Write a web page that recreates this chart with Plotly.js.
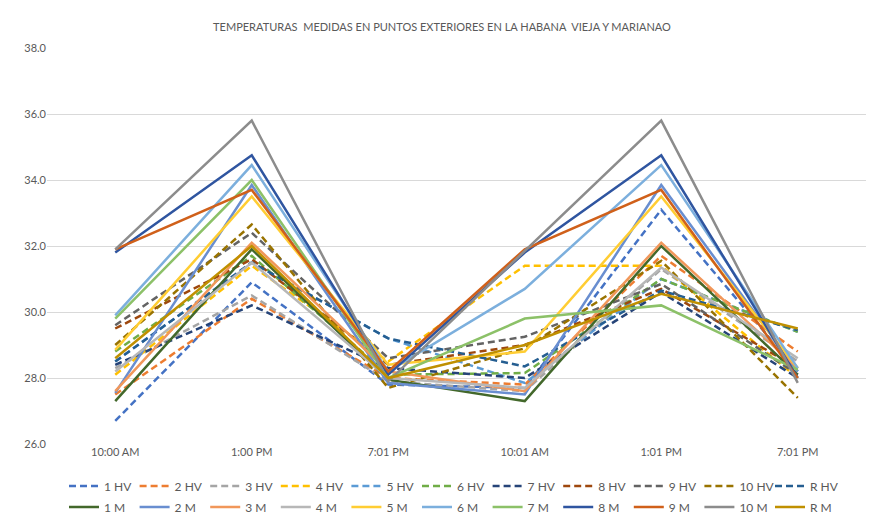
<!DOCTYPE html>
<html>
<head>
<meta charset="utf-8">
<script src="https://cdn.plot.ly/plotly-3.0.1.min.js"></script>
<style>
  html, body { margin: 0; padding: 0; background: #ffffff; }
  #chart { width: 869px; height: 519px; }
</style>
</head>
<body>
<div id="chart"></div>
<script>
// Categories (x axis)
const categories = ["10:00 AM", "1:00 PM", "7:01 PM", "10:01 AM", "1:01 PM", "7:01 PM"];

// Series names
const hvNames = ["1 HV", "2 HV", "3 HV", "4 HV", "5 HV", "6 HV", "7 HV", "8 HV", "9 HV", "10 HV", "R HV"];
const mNames  = ["1 M", "2 M", "3 M", "4 M", "5 M", "6 M", "7 M", "8 M", "9 M", "10 M", "R M"];

// Habana Vieja series (dashed)
const hv1  = [26.7, 30.9, 27.8, 27.7, 33.1, 28.2];
const hv2  = [27.5, 30.4, 28.0, 27.8, 31.7, 28.8];
const hv3  = [28.3, 30.5, 27.9, 27.6, 31.3, 28.5];
const hv4  = [28.1, 31.4, 28.5, 31.4, 31.4, 28.0];
const hv5  = [28.5, 31.5, 29.2, 27.85, 31.0, 29.4];
const hv6  = [28.8, 31.7, 28.1, 28.15, 31.0, 29.4];
const hv7  = [28.4, 30.2, 28.3, 28.0, 30.6, 28.0];
const hv8  = [29.5, 31.6, 28.4, 29.0, 30.7, 28.3];
const hv9  = [29.6, 32.4, 28.6, 29.25, 30.85, 28.1];
const hv10 = [29.0, 32.65, 27.7, 28.9, 31.55, 27.4];
const hvR  = [28.5, 31.5, 29.2, 28.35, 30.65, 29.45];

// Marianao series (solid)
const m1  = [27.3, 31.9, 27.95, 27.3, 32.0, 28.1];
const m2  = [27.55, 33.85, 27.85, 27.5, 33.85, 28.2];
const m3  = [27.6, 32.1, 28.2, 27.6, 32.1, 28.3];
const m4  = [28.2, 31.5, 28.0, 27.7, 31.35, 28.6];
const m5  = [28.85, 33.5, 28.4, 28.8, 33.5, 28.3];
const m6  = [29.9, 34.45, 28.2, 30.7, 34.45, 28.3];
const m7  = [29.8, 34.0, 28.0, 29.8, 30.2, 28.25];
const m8  = [31.8, 34.75, 28.1, 31.8, 34.75, 28.0];
const m9  = [31.9, 33.7, 28.2, 31.9, 33.7, 28.0];
const m10 = [31.9, 35.8, 27.9, 31.85, 35.8, 27.85];
const mR  = [28.6, 32.0, 28.0, 29.0, 30.55, 29.5];

const hvData = [hv1, hv2, hv3, hv4, hv5, hv6, hv7, hv8, hv9, hv10, hvR];
const mData  = [m1, m2, m3, m4, m5, m6, m7, m8, m9, m10, mR];

const hvColors = ["#4472C4", "#ED7D31", "#A5A5A5", "#FFC000", "#5B9BD5", "#70AD47",
                  "#264478", "#9E480E", "#636363", "#997300", "#255E91"];
const mColors  = ["#43682B", "#698ED0", "#F1975A", "#B7B7B7", "#FFCD33", "#7CAFDD",
                  "#8CC168", "#2F55A0", "#D0601A", "#8C8C8C", "#C09000"];

const xIdx = categories.map((c, i) => i);
const traces = [];
hvData.forEach((ys, i) => {
  traces.push({
    x: xIdx, y: ys, name: hvNames[i], type: "scatter", mode: "lines",
    line: { color: hvColors[i], width: 2.5, dash: "7px,4px" },
    legend: "legend"
  });
});
mData.forEach((ys, i) => {
  traces.push({
    x: xIdx, y: ys, name: mNames[i], type: "scatter", mode: "lines",
    line: { color: mColors[i], width: 2.5 },
    legend: "legend2"
  });
});

const fontFam = "Lato, 'Open Sans', sans-serif";
const legendCommon = {
  orientation: "h", xref: "container", yref: "container",
  xanchor: "left", yanchor: "middle",
  font: { family: fontFam, size: 12, color: "#595959" },
  entrywidth: 25.6, entrywidthmode: "pixels",
  itemwidth: 30, bgcolor: "rgba(0,0,0,0)", tracegroupgap: 0,
  itemclick: false, itemdoubleclick: false
};

const layout = {
  width: 869, height: 519,
  margin: { l: 47, r: 3, t: 48, b: 75 },
  paper_bgcolor: "#ffffff", plot_bgcolor: "#ffffff",
  font: { family: fontFam, size: 11, color: "#595959" },
  title: {
    text: "TEMPERATURAS  MEDIDAS EN PUNTOS EXTERIORES EN LA HABANA  VIEJA Y MARIANAO",
    font: { family: fontFam, size: 11, color: "#595959" },
    xref: "container", yref: "container",
    x: 442 / 869, xanchor: "center", y: 1 - 27 / 519, yanchor: "middle"
  },
  xaxis: {
    type: "linear", range: [-0.5, 5.5],
    tickmode: "array", tickvals: xIdx, ticktext: categories,
    showgrid: false, zeroline: false, showline: false, ticks: "",
    tickfont: { family: fontFam, size: 11, color: "#595959" },
    fixedrange: true
  },
  yaxis: {
    range: [26, 38], dtick: 2, tick0: 26, tickformat: ".1f",
    showgrid: true, gridcolor: "#D9D9D9", gridwidth: 1,
    zeroline: false, showline: false, ticks: "",
    tickfont: { family: fontFam, size: 11, color: "#595959" },
    fixedrange: true
  },
  legend: Object.assign({}, legendCommon, { x: 64 / 869, y: 1 - 486 / 519 }),
  legend2: Object.assign({}, legendCommon, { x: 64 / 869, y: 1 - 507 / 519 }),
  showlegend: true
};

Plotly.newPlot("chart", traces, layout, { displayModeBar: false, staticPlot: true });
</script>
</body>
</html>
